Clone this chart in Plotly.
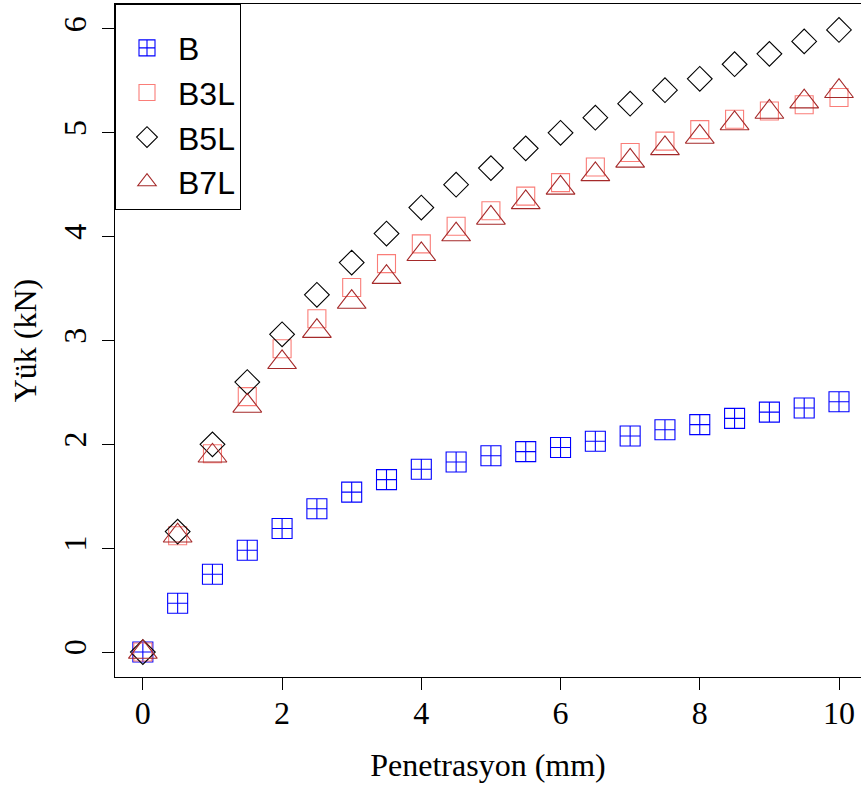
import plotly.graph_objects as go

penetrasyon = [0, 0.5, 1, 1.5, 2, 2.5, 3, 3.5, 4, 4.5, 5, 5.5, 6, 6.5, 7, 7.5, 8, 8.5, 9, 9.5, 10]

yuk_B = [0, 0.47, 0.75, 0.98, 1.19, 1.38, 1.54, 1.66, 1.76, 1.83, 1.89, 1.93, 1.97, 2.03, 2.08, 2.14, 2.19, 2.25, 2.31, 2.35, 2.41]
yuk_B3L = [0, 1.12, 1.91, 2.46, 2.92, 3.21, 3.51, 3.74, 3.93, 4.10, 4.25, 4.39, 4.52, 4.67, 4.81, 4.92, 5.03, 5.13, 5.21, 5.27, 5.34]
yuk_B5L = [0, 1.16, 2.0, 2.6, 3.06, 3.44, 3.75, 4.03, 4.28, 4.50, 4.66, 4.85, 5.0, 5.145, 5.28, 5.41, 5.52, 5.66, 5.76, 5.88, 5.99]
yuk_B7L = [0, 1.12, 1.89, 2.37, 2.79, 3.09, 3.37, 3.61, 3.83, 4.02, 4.18, 4.33, 4.47, 4.60, 4.73, 4.85, 4.96, 5.09, 5.20, 5.30, 5.40]

series_names = ["B", "B3L", "B5L", "B7L"]
series_values = [yuk_B, yuk_B3L, yuk_B5L, yuk_B7L]
series_colors = ["#0000FF", "#FA7D78", "#000000", "#A52A2A"]
series_symbols = ["square-cross-open", "square-open", "diamond-open", "triangle-up-open"]
series_sizes = [20, 18, 19, 25]

x_ticks = [0, 2, 4, 6, 8, 10]
y_ticks = [0, 1, 2, 3, 4, 5, 6]

fig = go.Figure()
for name, vals, col, sym, sz in zip(series_names, series_values, series_colors, series_symbols, series_sizes):
    fig.add_trace(go.Scatter(
        x=penetrasyon, y=vals, mode="markers", name=name,
        marker=dict(symbol=sym, size=sz, color=col, line=dict(color=col, width=1.1)),
    ))

serif = "Liberation Serif, Times New Roman, serif"
fig.update_layout(
    width=861, height=789,
    margin=dict(l=115, r=0, t=4, b=112),
    paper_bgcolor="white", plot_bgcolor="white",
    showlegend=True,
    legend=dict(
        x=0, y=1, xanchor="left", yanchor="top",
        bordercolor="black", borderwidth=1, bgcolor="white",
        font=dict(family="Liberation Sans, Arial, sans-serif", size=32, color="black"),
        itemwidth=52,
        title=dict(text="\u00a0", font=dict(size=12)),
    ),
    xaxis=dict(
        range=[-0.4, 10.316], tickvals=x_ticks, ticktext=[str(v) for v in x_ticks],
        automargin=False,
        showgrid=False, zeroline=False, showline=True, linecolor="black", linewidth=1, mirror=True,
        ticks="outside", ticklen=12, tickwidth=1, tickcolor="black", ticklabelstandoff=-4,
        tickfont=dict(family=serif, size=32, color="black"),
        title=dict(text="Penetrasyon (mm)", font=dict(family=serif, size=32, color="black"), standoff=23),
    ),
    yaxis=dict(
        range=[-0.24, 6.24], tickvals=y_ticks, ticktext=[str(v) for v in y_ticks],
        automargin=False,
        showgrid=False, zeroline=False, showline=True, linecolor="black", linewidth=1,
        ticks="outside", ticklen=12, tickwidth=1, tickcolor="black", tickangle=-90, ticklabelstandoff=3,
        tickfont=dict(family=serif, size=32, color="black"),
        title=dict(text="Yük (kN)", font=dict(family=serif, size=32, color="black"), standoff=11),
    ),
)

fig.write_html("out.html", config={"displayModeBar": False},
               post_script="document.body.style.margin='0';")
